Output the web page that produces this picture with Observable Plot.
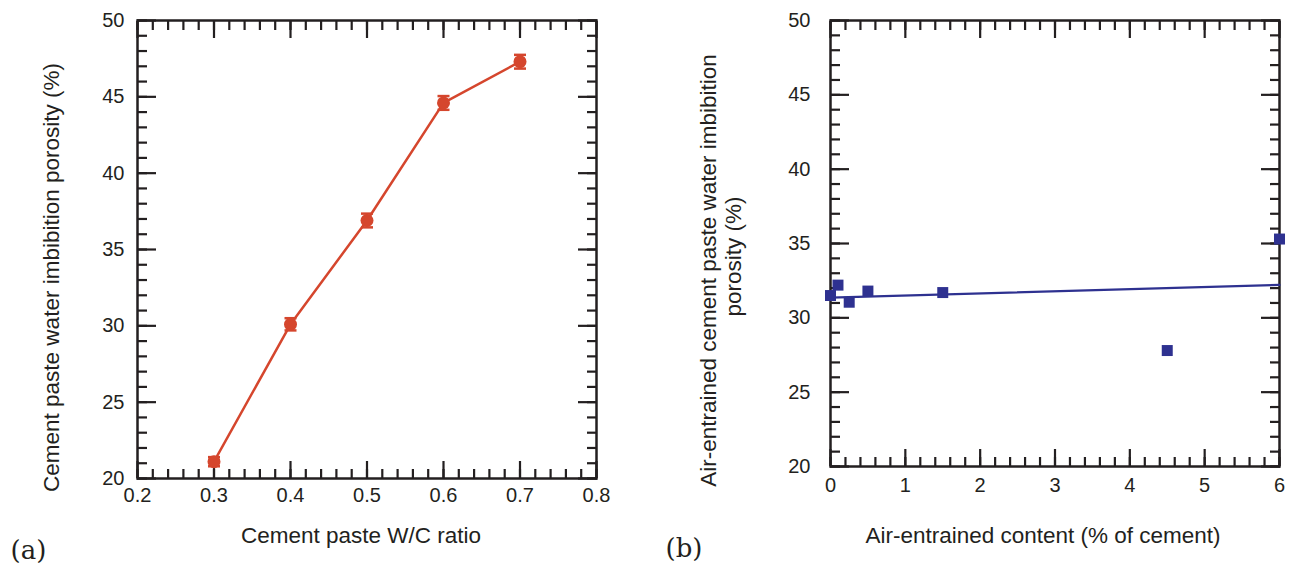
<!DOCTYPE html>
<html>
<head>
<meta charset="utf-8">
<script src="https://cdn.jsdelivr.net/npm/d3@7"></script>
<script src="https://cdn.jsdelivr.net/npm/@observablehq/plot@0.6"></script>
<style>
  body { margin: 0; background: #fff; }
  #wrap { position: relative; width: 1300px; height: 572px; overflow: hidden; background: #fff; }
  #wrap > svg { position: absolute; top: 0; }
</style>
</head>
<body>
<div id="wrap"></div>
<script>
// (a) water imbibition porosity of cement paste against W/C ratio
const wcRatio = [0.3, 0.4, 0.5, 0.6, 0.7];
const wcPorosity = [21.1, 30.1, 36.9, 44.6, 47.3];
const wcError = [0.3, 0.4, 0.45, 0.45, 0.45];

// (b) porosity of air-entrained paste against air-entraining agent dosage
const airContent = [0, 0.1, 0.25, 0.5, 1.5, 4.5, 6];
const airPorosity = [31.5, 32.2, 31.05, 31.8, 31.7, 27.8, 35.3];

// axis ticks
const xMajorA = [0.2, 0.3, 0.4, 0.5, 0.6, 0.7, 0.8];
const xMinorA = d3.range(0, 31).map(i => 0.2 + i * 0.02);
const xMajorB = [0, 1, 2, 3, 4, 5, 6];
const xMinorB = d3.range(0, 31).map(i => i * 0.2);
const yMajor = [20, 25, 30, 35, 40, 45, 50];
const yMinor = d3.range(20, 51);

const ink = "#231f20";
const red = "#d5462d";
const navy = "#2e3190";
const sans = "Liberation Sans, Arial, Helvetica, sans-serif";
const serif = "DejaVu Serif, Liberation Serif, serif";

const dataA = wcRatio.map((x, i) => ({x, y: wcPorosity[i], e: wcError[i]}));
const dataB = airContent.map((x, i) => ({x, y: airPorosity[i]}));

// short horizontal stroke used as error-bar cap
const cap = {draw(ctx) { ctx.moveTo(-6, 0); ctx.lineTo(6, 0); }};

// inward ticks on all four sides of the frame
function frameTicks(xMajor, xMinor) {
  const tk = {text: null, label: null, stroke: ink, strokeWidth: 2.2};
  const marks = [];
  for (const [ticks, len] of [[xMinor, 9], [xMajor, 17]]) {
    marks.push(Plot.axisX(ticks, {...tk, anchor: "bottom", tickSize: len, dy: -len}));
    marks.push(Plot.axisX(ticks, {...tk, anchor: "top", tickSize: len, dy: len}));
  }
  for (const [ticks, len] of [[yMinor, 10], [yMajor, 19]]) {
    marks.push(Plot.axisY(ticks, {...tk, anchor: "left", tickSize: len, dx: len}));
    marks.push(Plot.axisY(ticks, {...tk, anchor: "right", tickSize: len, dx: -len}));
  }
  return marks;
}

const baseStyle = {fontFamily: sans, fontSize: "20px", color: ink, background: "transparent", overflow: "visible"};
const titleText = {text: d => d, textAnchor: "middle", lineAnchor: "bottom", fontSize: 22.5, fill: ink};

// ---- panel (a)
const plotA = Plot.plot({
  width: 650, height: 572,
  marginLeft: 137, marginRight: 54, marginTop: 20, marginBottom: 94,
  style: baseStyle,
  x: {domain: [0.2, 0.8]},
  y: {domain: [20, 50]},
  marks: [
    ...frameTicks(xMajorA, xMinorA),
    Plot.axisX(xMajorA, {anchor: "bottom", tickSize: 0, tickPadding: 9, label: null, fontSize: 20, fill: ink, tickFormat: d => d.toFixed(1)}),
    Plot.axisY(yMajor, {anchor: "left", tickSize: 0, tickPadding: 13, label: null, fontSize: 20, fill: ink}),
    Plot.frame({stroke: ink, strokeWidth: 2.5}),
    Plot.line(dataA, {x: "x", y: "y", stroke: red, strokeWidth: 2.5}),
    Plot.ruleX(dataA, {x: "x", y1: d => d.y - d.e, y2: d => d.y + d.e, stroke: red, strokeWidth: 2.5}),
    Plot.dot(dataA, {x: "x", y: d => d.y - d.e, symbol: cap, r: 6, stroke: red, fill: "none", strokeWidth: 2.5}),
    Plot.dot(dataA, {x: "x", y: d => d.y + d.e, symbol: cap, r: 6, stroke: red, fill: "none", strokeWidth: 2.5}),
    Plot.dot(dataA, {x: "x", y: "y", r: 6.5, fill: red, stroke: "none"}),
    Plot.text(["Cement paste W/C ratio"], {...titleText, frameAnchor: "bottom", dx: -6, dy: 64}),
    Plot.text(["Cement paste water imbibition porosity (%)"], {...titleText, frameAnchor: "left", rotate: -90, dx: -79, dy: 28}),
    Plot.text(["(a)"], {text: d => d, frameAnchor: "bottom-left", textAnchor: "start", dx: -127, dy: 80, lineAnchor: "bottom", fontSize: 26, fontFamily: serif, fill: ink})
  ]
});
plotA.style.left = "0px";

// ---- panel (b)
const plotB = Plot.plot({
  width: 650, height: 572,
  marginLeft: 180, marginRight: 21, marginTop: 20, marginBottom: 106,
  style: baseStyle,
  x: {domain: [0, 6]},
  y: {domain: [20, 50]},
  marks: [
    ...frameTicks(xMajorB, xMinorB),
    Plot.axisX(xMajorB, {anchor: "bottom", tickSize: 0, tickPadding: 11, label: null, fontSize: 20, fill: ink}),
    Plot.axisY(yMajor, {anchor: "left", tickSize: 0, tickPadding: 20, label: null, fontSize: 20, fill: ink}),
    Plot.frame({stroke: ink, strokeWidth: 2.5}),
    Plot.linearRegressionY(dataB, {x: "x", y: "y", ci: 0, stroke: navy, strokeWidth: 2.2}),
    Plot.dot(dataB, {x: "x", y: "y", symbol: "square", r: 6.2, fill: navy, stroke: "none"}),
    Plot.text(["Air-entrained content (% of cement)"], {...titleText, frameAnchor: "bottom", dx: -12, dy: 76}),
    Plot.text(["Air-entrained cement paste water imbibition"], {...titleText, frameAnchor: "left", rotate: -90, dx: -115, dy: 27}),
    Plot.text(["porosity (%)"], {...titleText, frameAnchor: "left", rotate: -90, dx: -90, dy: 13}),
    Plot.text(["(b)"], {text: d => d, frameAnchor: "bottom-left", textAnchor: "start", dx: -165, dy: 90, lineAnchor: "bottom", fontSize: 26, fontFamily: serif, fill: ink})
  ]
});
plotB.style.left = "650px";

document.getElementById("wrap").append(plotA, plotB);
</script>
</body>
</html>
